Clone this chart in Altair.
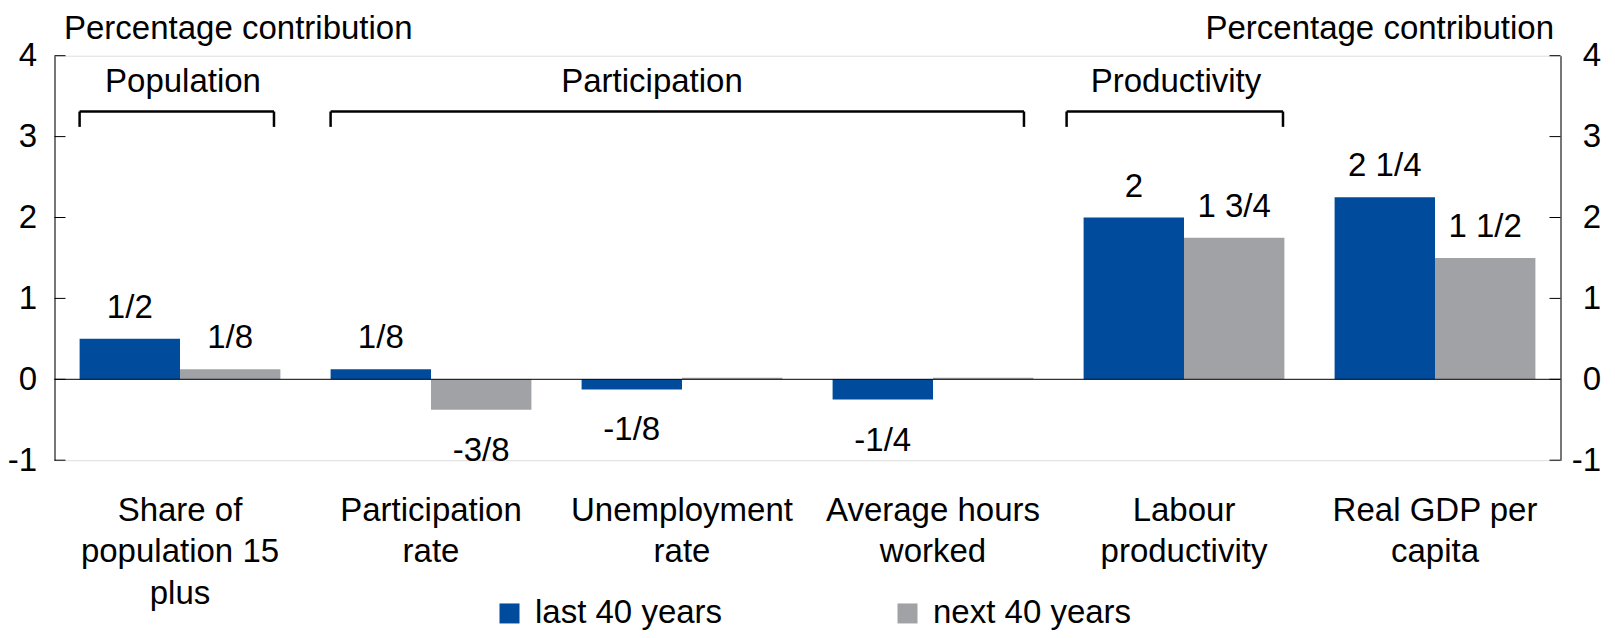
import altair as alt
import pandas as pd

# ---- data ----
categories = ["Share of|population 15|plus", "Participation|rate", "Unemployment|rate",
              "Average hours|worked", "Labour|productivity", "Real GDP per|capita"]
series = ["last 40 years", "next 40 years"]
last_vals = [0.5, 0.125, -0.125, -0.25, 2.0, 2.25]
next_vals = [0.125, -0.375, 0.02, 0.02, 1.75, 1.5]
last_labels = ["1/2", "1/8", "-1/8", "-1/4", "2", "2 1/4"]
next_labels = ["1/8", "-3/8", "", "", "1 3/4", "1 1/2"]
colors = ["#004B9B", "#A0A2A5"]
tick_values = [-1, 0, 1, 2, 3, 4]

bracket_names = ["Population", "Participation", "Productivity"]
bracket_start = [categories[0], categories[1], categories[4]]
bracket_end = [categories[0], categories[3], categories[4]]
bracket_mid = [categories[0], categories[2], categories[4]]

rows = []
for i, c in enumerate(categories):
    rows.append(dict(cat=c, series=series[0], value=last_vals[i], label=last_labels[i]))
    rows.append(dict(cat=c, series=series[1], value=next_vals[i], label=next_labels[i]))
df = pd.DataFrame(rows)
tick_df = pd.DataFrame({"tick": tick_values})
zero_df = pd.DataFrame({"z": [0]})
bdf = pd.DataFrame({"name": bracket_names, "start": bracket_start,
                    "end": bracket_end, "mid": bracket_mid})

# ---- styling ----
W, H = 1506, 404.5
FONT = "Liberation Sans"
FS = 33
# bracket end positions within their bands and label nudges (styling)
b_style = [
    {"l": 0.0, "lo": 0, "r": 0.968, "dx": 3},
    {"l": 0.017, "lo": 0, "r": 0.953, "dx": -30},
    {"l": 0.0, "lo": -17, "r": 0.993, "dx": -8},
]
B_LINE, B_TICK, B_TEXT = 3.31, 3.12, 3.55

xscale = alt.Scale(domain=categories, paddingInner=0.2, paddingOuter=0.1)
yscale = alt.Scale(domain=[-1, 4], nice=False, zero=False)
offscale = alt.Scale(domain=series, paddingInner=0, paddingOuter=0)

x_axis = alt.Axis(title=None, labelExpr="split(datum.label, '|')", labelFontSize=FS,
                  labelLineHeight=41.5, labelPadding=34, ticks=False, tickSize=0,
                  domain=False, labelColor="black", labelLimit=0, labelAngle=0)

left_axis = alt.Axis(values=tick_values, title="Percentage contribution", titleAngle=0,
                     titleAlign="left", titleBaseline="alphabetic", titleX=9, titleY=-17.5,
                     titleFontSize=FS, titleFontWeight="normal", titleColor="black",
                     labelFontSize=FS, labelPadding=18, ticks=False, tickSize=0, grid=False,
                     domainColor="black", domainWidth=1, labelColor="black",
                     labelExpr="'' + datum.value")
right_axis = alt.Axis(values=tick_values, orient="right", title="Percentage contribution",
                      titleAngle=0, titleAlign="right", titleBaseline="alphabetic",
                      titleX=-7, titleY=-17.5, titleFontSize=FS, titleFontWeight="normal",
                      titleColor="black", labelFontSize=FS, labelPadding=40,
                      labelAlign="right", ticks=False, tickSize=0, grid=False,
                      domainColor="black", domainWidth=1, labelColor="black",
                      labelExpr="'' + datum.value")

bars = alt.Chart(df).mark_bar().encode(
    x=alt.X("cat:N", scale=xscale, sort=None, axis=x_axis),
    xOffset=alt.XOffset("series:N", scale=offscale),
    y=alt.Y("value:Q", scale=yscale, axis=left_axis),
    color=alt.Color("series:N", scale=alt.Scale(domain=series, range=colors),
                    legend=alt.Legend(orient="none", legendX=438.5, legendY=541,
                                      direction="horizontal", columns=2, columnPadding=168,
                                      symbolType="square", symbolSize=400,
                                      symbolStrokeWidth=0, labelFontSize=FS, labelOffset=9,
                                      labelColor="black", title=None, padding=0,
                                      labelLimit=0)),
)

zero_line = alt.Chart(zero_df).mark_rule(color="black", strokeWidth=1).encode(
    y=alt.Y("z:Q", scale=yscale, axis=None)
)

left_ticks = alt.Chart(tick_df).mark_rule(color="black", strokeWidth=1).encode(
    y=alt.Y("tick:Q", scale=yscale, axis=None),
    x=alt.value(0), x2=alt.value(11),
)
right_ticks = alt.Chart(tick_df).mark_rule(color="black", strokeWidth=1).encode(
    y=alt.Y("tick:Q", scale=yscale, axis=right_axis),
    x=alt.value(W - 11), x2=alt.value(W),
)

bracket_layers = []
for i, st in enumerate(b_style):
    base = alt.Chart(bdf.iloc[[i]]).transform_calculate(
        ly=str(B_LINE), ty=str(B_TICK), tt=str(B_TEXT))
    bracket_layers.append(base.mark_rule(color="black", strokeWidth=2.5).encode(
        x=alt.X("start:N", bandPosition=st["l"], scale=xscale, axis=None),
        xOffset=alt.value(st["lo"]),
        x2=alt.X2("end:N", bandPosition=st["r"]),
        y=alt.Y("ly:Q", scale=yscale, axis=None),
    ))
    bracket_layers.append(base.mark_rule(color="black", strokeWidth=2.5).encode(
        x=alt.X("start:N", bandPosition=st["l"], scale=xscale, axis=None),
        xOffset=alt.value(st["lo"]),
        y=alt.Y("ly:Q", scale=yscale, axis=None),
        y2="ty:Q",
    ))
    bracket_layers.append(base.mark_rule(color="black", strokeWidth=2.5).encode(
        x=alt.X("end:N", bandPosition=st["r"], scale=xscale, axis=None),
        y=alt.Y("ly:Q", scale=yscale, axis=None),
        y2="ty:Q",
    ))
    bracket_layers.append(base.mark_text(fontSize=FS, baseline="alphabetic", align="center",
                                         color="black", dx=st["dx"]).encode(
        x=alt.X("mid:N", scale=xscale, axis=None),
        y=alt.Y("tt:Q", scale=yscale, axis=None),
        text="name:N",
    ))

pos_labels = alt.Chart(df).transform_filter("datum.value >= 0 && datum.label != ''").mark_text(
    fontSize=FS, baseline="alphabetic", align="center", dy=-21, color="black"
).encode(
    x=alt.X("cat:N", scale=xscale, axis=None),
    xOffset=alt.XOffset("series:N", scale=offscale),
    y=alt.Y("value:Q", scale=yscale, axis=None),
    text="label:N",
)
neg_labels = alt.Chart(df).transform_filter("datum.value < 0 && datum.label != ''").mark_text(
    fontSize=FS, baseline="alphabetic", align="center", dy=51, color="black"
).encode(
    x=alt.X("cat:N", scale=xscale, axis=None),
    xOffset=alt.XOffset("series:N", scale=offscale),
    y=alt.Y("value:Q", scale=yscale, axis=None),
    text="label:N",
)

chart = alt.layer(
    bars, zero_line, left_ticks, right_ticks, *bracket_layers, pos_labels, neg_labels
).resolve_axis(y="independent", x="independent").properties(
    width=W, height=H,
    padding={"left": 46.5, "top": 47.7, "right": 46.5, "bottom": 169.8},
    autosize=alt.AutoSizeParams(type="none"),
).configure_view(stroke=None).configure(font=FONT)

chart.save("out.html", embed_options={"renderer": "svg", "actions": False})
